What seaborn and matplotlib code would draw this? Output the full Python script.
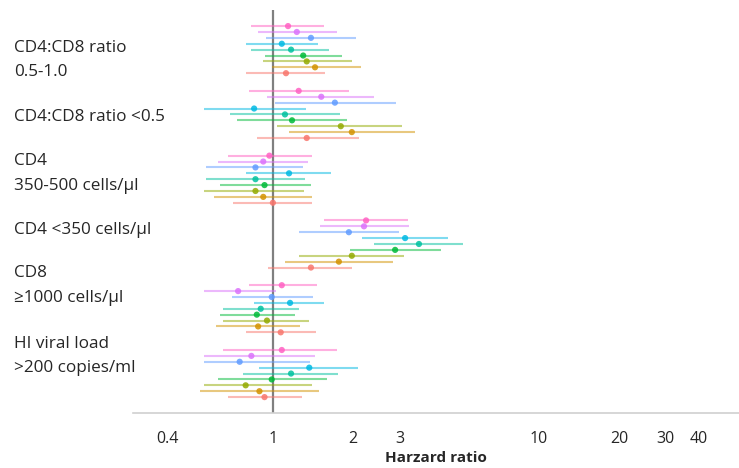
import numpy as np
import pandas as pd
import matplotlib
matplotlib.use("Agg")
import matplotlib.pyplot as plt
import seaborn as sns

# Groups (top to bottom) and the 9 coloured estimates inside each group
groups = ["CD4:CD8 ratio\n0.5-1.0", "CD4:CD8 ratio <0.5", "CD4\n350-500 cells/\u00b5l",
          "CD4 <350 cells/\u00b5l", "CD8\n\u22651000 cells/\u00b5l", "HI viral load\n>200 copies/ml"]
series = ["s1", "s2", "s3", "s4", "s5", "s6", "s7", "s8", "s9"]
colors = ["#FF61C3", "#DB72FB", "#619CFF", "#00B9E3", "#00C19F",
          "#00BA38", "#93AA00", "#D39200", "#F8766D"]

hr = [
    [1.14, 1.23, 1.39, 1.08, 1.17, 1.30, 1.34, 1.44, 1.12],
    [1.25, 1.52, 1.71, 0.85, 1.11, 1.18, 1.80, 1.98, 1.34],
    [0.97, 0.92, 0.86, 1.15, 0.86, 0.93, 0.86, 0.92, 1.00],
    [2.24, 2.20, 1.93, 3.14, 3.54, 2.88, 1.98, 1.77, 1.39],
    [1.08, 0.74, 0.99, 1.16, 0.90, 0.87, 0.95, 0.88, 1.07],
    [1.08, 0.83, 0.75, 1.37, 1.17, 0.99, 0.79, 0.89, 0.93],
]
lower = [
    [0.83, 0.88, 0.94, 0.79, 0.83, 0.93, 0.92, 0.99, 0.79],
    [0.81, 0.95, 1.02, 0.55, 0.69, 0.73, 1.04, 1.15, 0.87],
    [0.68, 0.62, 0.56, 0.79, 0.56, 0.63, 0.55, 0.60, 0.71],
    [1.56, 1.50, 1.25, 2.16, 2.40, 1.95, 1.25, 1.11, 0.96],
    [0.81, 0.55, 0.70, 0.85, 0.65, 0.63, 0.65, 0.61, 0.79],
    [0.65, 0.55, 0.55, 0.89, 0.77, 0.62, 0.55, 0.53, 0.68],
]
upper = [
    [1.56, 1.74, 2.05, 1.48, 1.62, 1.82, 1.98, 2.14, 1.57],
    [1.93, 2.40, 2.90, 1.33, 1.79, 1.90, 3.06, 3.42, 2.11],
    [1.40, 1.35, 1.30, 1.65, 1.32, 1.39, 1.31, 1.40, 1.40],
    [3.22, 3.25, 2.98, 4.55, 5.18, 4.28, 3.11, 2.83, 1.98],
    [1.46, 1.03, 1.41, 1.56, 1.25, 1.21, 1.37, 1.26, 1.45],
    [1.74, 1.44, 1.38, 2.09, 1.76, 1.60, 1.40, 1.49, 1.29],
]

tick_vals = [0.4, 1, 2, 3, 10, 20, 30, 40]
tick_labels = ["0.4", "1", "2", "3", "10", "20", "30", "40"]

# Build a long table: one row per estimate
rows = []
for g in range(len(groups)):
    for i, s in enumerate(series):
        rows.append({"group": g, "series": s, "pos": g * 11 + i,
                     "hr": hr[g][i], "lo": lower[g][i], "hi": upper[g][i],
                     "color": colors[i]})
df = pd.DataFrame(rows)

sns.set_style("white")
plt.rcParams["font.family"] = ["Open Sans", "DejaVu Sans"]

fig = plt.figure(figsize=(7.39, 4.68), dpi=100)
ax = fig.add_axes([0.18, 0.1175, 0.82, 0.861])

# confidence intervals
ax.hlines(df["pos"], df["lo"], df["hi"], colors=df["color"], linewidth=1.5, alpha=0.5)
# reference line at HR = 1
ax.axvline(1, color="#808080", linewidth=1.6, zorder=1)
# point estimates
sns.scatterplot(data=df, x="hr", y="pos", hue="series", palette=colors,
                s=20, linewidth=0, alpha=0.85, legend=False, ax=ax, zorder=3)

ax.set_xscale("log")
ax.set_xlim(0.298, 56.5)
ax.set_ylim(65.7, -2.72)
ax.set_xticks(tick_vals)
ax.set_xticklabels(tick_labels, fontsize=11.5)
ax.xaxis.set_minor_locator(matplotlib.ticker.NullLocator())
ax.tick_params(axis="x", length=2, color="#c8c8c8", pad=11)
ax.set_yticks([])
ax.set_ylabel("")
ax.set_xlabel("Harzard ratio", fontsize=11, fontweight="bold", labelpad=3)

for side in ["top", "left", "right"]:
    ax.spines[side].set_visible(False)
ax.spines["bottom"].set_color("#d0d0d0")
ax.spines["bottom"].set_linewidth(1.2)

# group labels on the left (figure pixel positions)
label_lines = [[48, 72], [117], [161, 186], [230], [273, 298], [344, 368]]
for g, name in enumerate(groups):
    for text, ypix in zip(name.split("\n"), label_lines[g]):
        fig.text(14 / 739, 1 - ypix / 468, text, fontsize=12.3, va="center", ha="left")

fig.savefig("out.png", dpi=100)
